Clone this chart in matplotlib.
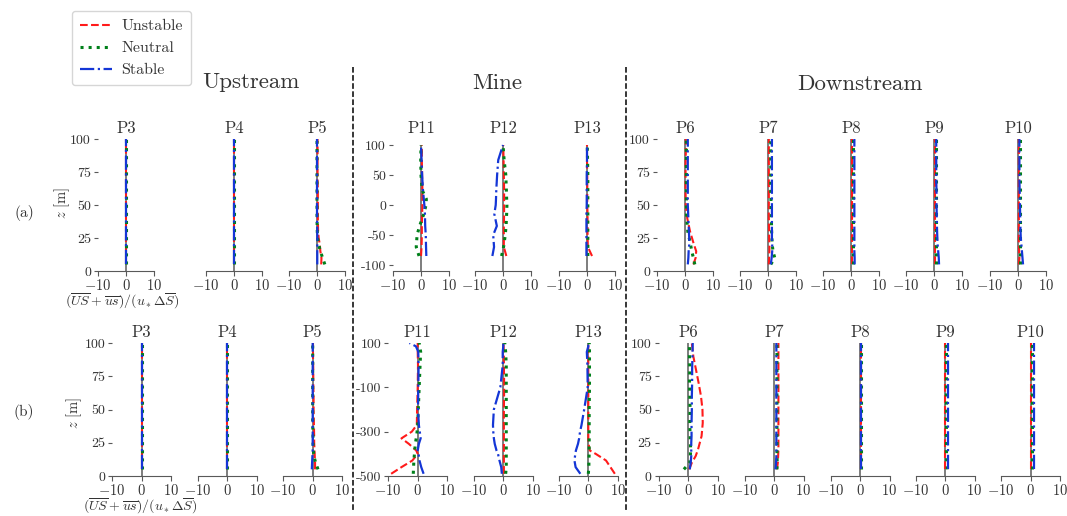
"""Profils verticaux du flux turbulent normalisé, stations amont / mine / aval."""

import matplotlib

matplotlib.use("Agg")
import matplotlib.pyplot as plt
from matplotlib.lines import Line2D

plt.rcParams["font.family"] = "serif"
plt.rcParams["font.serif"] = ["cmr10", "DejaVu Serif"]
plt.rcParams["mathtext.fontset"] = "cm"
plt.rcParams["axes.unicode_minus"] = False

# ---- données (unstable, neutral, stable) ----
STATIONS = ["P3", "P4", "P5", "P11", "P12", "P13", "P6", "P7", "P8", "P9", "P10"]
MINE = {"P11", "P12", "P13"}

Z_A = [5, 10, 15, 20, 25, 30, 40, 50, 60, 70, 80, 90, 100]
Z_A_MINE = [-85, -70, -50, -35, -15, 0, 10, 25, 50, 75, 100]
Z_B = [5, 10, 15, 20, 25, 30, 40, 50, 60, 70, 80, 90, 100]
Z_B_MINE = [-490, -460, -430, -400, -385, -355, -330, -300, -270, -200, -100, 0, 60, 85, 100]

A_P3 = ([0, 0, 0, 0, 0, 0, 0, 0, 0, 0, 0, 0, 0],
        [0, 0, 0, 0, 0, 0, 0, 0, 0, 0, 0, 0, 0],
        [0, 0, 0, 0, 0, 0, 0, 0, 0, 0, 0, 0, 0])
A_P4 = ([0, 0, 0, 0, 0, 0, 0, 0, 0, 0, 0, 0, 0],
        [0, 0, 0, 0, 0, 0, 0, 0, 0, 0, 0, 0, 0],
        [0, 0, 0, 0, 0, 0, 0, 0, 0, 0, 0, 0, 0])
A_P5 = ([1.5, 1.6, 1.2, 1.0, 0.6, 0.4, 0.3, 0.3, 0.3, 0.2, 0.2, 0.2, 0.2],
        [2.8, 2.0, 1.2, 0.6, 0.2, 0.1, 0, 0, 0, 0, 0, 0, 0],
        [0.1, 0.1, 0.1, 0.1, 0.1, 0.1, 0, 0, 0, 0, 0, 0, 0])
A_P11 = ([0.0, 0.2, 0.3, 0.3, 0.4, 0.5, 0.5, 0.5, 0.4, 0.3, 0.3],
         [-0.7, -1.7, -1.4, -0.5, 1.0, 1.8, 1.9, 0.4, 0.0, -0.1, 0.0],
         [1.9, 1.8, 1.7, 1.5, 1.4, 1.2, 1.0, 0.7, 0.4, 0.2, 0.0])
A_P12 = ([1.2, 0.3, 0.3, 0.3, 0.4, 0.4, 0.4, 0.4, 0.3, 0.2, 0.1],
         [-0.5, 0.2, 0.8, 1.1, 1.3, 1.4, 1.3, 1.2, 1.0, 0.4, 0.0],
         [-3.8, -3.2, -3.5, -2.2, -3.1, -2.6, -2.5, -2.4, -2.1, -1.7, 0.0])
A_P13 = ([1.8, 0.3, 0.2, 0.2, 0.2, 0.1, 0.1, 0.1, 0.1, 0.0, 0.0],
         [0.3, 0.3, 0.3, 0.3, 0.3, 0.3, 0.3, 0.3, 0.3, 0.2, 0.1],
         [-0.2, -0.2, -0.2, -0.2, -0.2, -0.1, -0.1, -0.1, -0.1, 0.0, 0.0])
A_P6 = ([3.0, 3.8, 4.0, 3.2, 2.5, 1.8, 0.8, 0.3, 0.2, 0.2, 0.2, 0.3, 0.3],
        [3.5, 3.0, 2.4, 2.0, 1.5, 1.0, 0.6, 0.5, 0.5, 0.5, 0.5, 0.5, 0.5],
        [1.0, 1.2, 1.3, 1.5, 1.5, 1.4, 1.2, 1.0, 1.0, 1.0, 1.0, 1.0, 1.0])
A_P7 = ([0.3, 0.4, 0.5, 0.5, 0.4, 0.4, 0.3, 0.3, 0.3, 0.3, 0.3, 0.3, 0.3],
        [1.0, 2.4, 1.8, 1.5, 1.4, 1.3, 1.2, 1.1, 1.0, 1.0, 1.0, 1.0, 1.0],
        [1.0, 1.3, 1.5, 1.5, 1.4, 1.4, 1.4, 1.4, 1.4, 1.4, 1.4, 1.4, 1.4])
A_P8 = ([0.5, 0.5, 0.5, 0.5, 0.5, 0.5, 0.5, 0.5, 0.5, 0.5, 0.5, 0.5, 0.5],
        [0.8, 0.8, 0.8, 0.8, 0.8, 0.8, 0.8, 0.8, 0.8, 0.8, 0.8, 0.8, 0.8],
        [1.3, 1.3, 1.2, 1.2, 1.2, 1.2, 1.2, 1.2, 1.2, 1.2, 1.2, 1.2, 1.2])
A_P9 = ([0.3, 0.3, 0.3, 0.3, 0.3, 0.3, 0.3, 0.3, 0.3, 0.3, 0.3, 0.3, 0.3],
        [0.6, 0.6, 0.6, 0.6, 0.6, 0.6, 0.6, 0.6, 0.6, 0.6, 0.6, 0.6, 0.6],
        [1.8, 1.7, 1.5, 1.3, 1.2, 1.1, 1.0, 0.9, 0.9, 0.8, 0.8, 0.8, 0.8])
A_P10 = ([0.3, 0.5, 0.4, 0.3, 0.3, 0.3, 0.3, 0.3, 0.3, 0.3, 0.3, 0.3, 0.3],
         [0.7, 0.7, 0.7, 0.7, 0.7, 0.7, 0.7, 0.7, 0.7, 0.7, 0.7, 0.7, 0.7],
         [1.8, 1.6, 1.4, 1.2, 1.0, 0.9, 0.8, 0.7, 0.6, 0.5, 0.5, 0.5, 0.5])

B_P3 = ([0, 0, 0, 0, 0, 0, 0, 0, 0, 0, 0, 0, 0],
        [0, 0, 0, 0, 0, 0, 0, 0, 0, 0, 0, 0, 0],
        [0, 0, 0, 0, 0, 0, 0, 0, 0, 0, 0, 0, 0])
B_P4 = ([0, 0, 0, 0, 0, 0, 0, 0, 0, 0, 0, 0, 0],
        [0, 0, 0, 0, 0, 0, 0, 0, 0, 0, 0, 0, 0],
        [0, 0, 0, 0, 0, 0, 0, 0, 0, 0, 0, 0, 0])
B_P5 = ([0.8, 0.8, 0.7, 0.6, 0.5, 0.5, 0.4, 0.3, 0.3, 0.2, 0.2, 0.1, 0.1],
        [1.8, 1.0, 0.4, 0.2, 0.1, 0.1, 0, 0, 0, 0, 0, 0, 0],
        [-0.3, -0.2, -0.1, 0, 0, 0, 0, 0, 0, 0, 0, 0, 0])
B_P11 = ([-9.0, -5.5, -1.8, 0.0, -0.5, -3.0, -5.5, -2.0, -0.3, -0.2, 0.0, 0.1, 0.0, 0.0, 0.0],
         [-1.5, -1.4, -1.3, -1.1, -1.0, -0.8, -0.5, -0.2, 0.0, 0.2, 0.5, 0.8, 1.0, 0.7, 0.5],
         [2.0, 1.2, 0.6, 0.3, 0.0, 0.4, 1.0, 0.7, 0.4, 0.1, 0.2, 0.3, 0.2, -0.6, -2.8])
B_P12 = ([0.2, 0.2, 0.2, 0.2, 0.2, 0.2, 0.2, 0.2, 0.2, 0.2, 0.3, 0.2, 0.2, 0.1, 0.1],
         [0.8, 1.0, 1.0, 1.0, 1.0, 1.0, 1.0, 1.0, 1.0, 1.0, 1.0, 1.0, 0.8, 0.6, 0.5],
         [-0.5, -0.7, -1.3, -1.8, -2.3, -2.9, -3.2, -3.4, -3.5, -3.2, -1.0, -0.2, -0.2, 0.0, 0.0])
B_P13 = ([9.0, 7.5, 6.0, 2.5, 0.5, 0.1, 0.0, 0.0, 0.0, 0.0, 0.0, 0.0, 0.0, 0.0, 0.0],
         [0.0, 0.2, 0.2, 0.3, 0.3, 0.3, 0.3, 0.3, 0.3, 0.3, 0.4, 0.4, 0.4, 0.4, 0.3],
         [-2.7, -4.3, -4.7, -4.4, -4.2, -3.5, -3.1, -2.8, -2.3, -1.4, -0.2, -0.3, -0.5, 0.0, 0.0])
B_P6 = ([0.3, 1.2, 2.5, 3.3, 3.9, 4.5, 4.9, 4.8, 4.3, 3.5, 2.6, 1.7, 1.2],
        [-1.5, 0.5, 0.7, 0.8, 0.7, 0.6, 0.5, 0.6, 0.5, 0.4, 0.5, 0.4, 0.4],
        [0.5, 0.8, 1.0, 1.0, 1.0, 1.1, 1.1, 1.2, 1.2, 1.3, 1.3, 1.4, 1.5])
B_P7 = ([1.0, 1.3, 1.4, 1.5, 1.5, 1.5, 1.5, 1.5, 1.5, 1.5, 1.5, 1.5, 1.5],
        [1.0, 1.1, 1.0, 1.0, 1.0, 1.0, 1.0, 1.0, 1.0, 1.0, 1.0, 1.0, 1.0],
        [0.5, 0.7, 0.8, 0.8, 0.8, 0.8, 0.8, 0.8, 0.8, 0.8, 0.8, 0.8, 0.8])
B_P8 = ([0.2, 0.2, 0.2, 0.2, 0.2, 0.2, 0.2, 0.2, 0.2, 0.2, 0.2, 0.2, 0.2],
        [0.3, 0.3, 0.3, 0.3, 0.3, 0.3, 0.3, 0.3, 0.3, 0.3, 0.3, 0.3, 0.3],
        [0.5, 0.5, 0.5, 0.5, 0.5, 0.5, 0.5, 0.5, 0.5, 0.5, 0.5, 0.5, 0.5])
B_P9 = ([0.0, 0.0, 0.0, 0.0, 0.0, 0.0, 0.0, 0.0, 0.0, 0.0, 0.0, 0.0, 0.0],
        [0.8, 0.6, 0.5, 0.5, 0.5, 0.5, 0.5, 0.5, 0.5, 0.5, 0.5, 0.5, 0.5],
        [1.1, 1.1, 1.1, 1.1, 1.1, 1.1, 1.1, 1.1, 1.1, 1.1, 1.1, 1.1, 1.1])
B_P10 = ([0.0, 0.0, 0.0, 0.0, 0.0, 0.0, 0.0, 0.0, 0.0, 0.0, 0.0, 0.0, 0.0],
         [0.6, 0.6, 0.6, 0.6, 0.6, 0.6, 0.6, 0.6, 0.6, 0.6, 0.6, 0.6, 0.6],
         [1.0, 1.0, 1.0, 1.0, 1.0, 1.0, 1.0, 1.0, 1.0, 1.0, 1.0, 1.0, 1.0])

ROW_A = [A_P3, A_P4, A_P5, A_P11, A_P12, A_P13, A_P6, A_P7, A_P8, A_P9, A_P10]
ROW_B = [B_P3, B_P4, B_P5, B_P11, B_P12, B_P13, B_P6, B_P7, B_P8, B_P9, B_P10]

LABELS = ["Unstable", "Neutral", "Stable"]
STYLES = [("#ff1a1a", "--", 1.5), ("#00801a", ":", 2.2), ("#1436d6", "-.", 1.6)]
TXT = "#333333"

# ---- mise en page (pixels) ----
W, H = 1067, 516
fig = plt.figure(figsize=(W / 100, H / 100), dpi=100)


def px_axes(x0, top, width, height):
    return fig.add_axes([(x0 - width / 2) / W, 1 - (top + height) / H, width / W, height / H])


def draw_panel(ax, z, profiles, title, ylim, yticks, show_y):
    ax.vlines(0, ylim[0], max(z), color="0.45", lw=1.3, zorder=1)
    lines = []
    for vals, (color, ls, lw) in zip(profiles, STYLES):
        (ln,) = ax.plot(vals, z, color=color, ls=ls, lw=lw, zorder=2)
        lines.append(ln)
    ax.set_xlim(-10, 10)
    ax.set_ylim(*ylim)
    ax.set_xticks([-10, 0, 10])
    ax.set_xticklabels([r"$-10$", r"$0$", r"$10$"], fontsize=10.5, color=TXT)
    for side in ("top", "right", "left"):
        ax.spines[side].set_visible(False)
    ax.spines["bottom"].set_color("0.35")
    ax.tick_params(axis="x", length=3.5, pad=1.5, color="0.35")
    if show_y:
        ax.set_yticks(yticks)
        ax.set_yticklabels([str(t) for t in yticks], fontsize=10, color=TXT)
        ax.tick_params(axis="y", length=3, pad=2, color="0.35")
    else:
        ax.set_yticks([])
    ax.set_title(title, fontsize=12, color=TXT, pad=4.5)
    ax.patch.set_alpha(0)
    return lines


rows = [
    (ROW_A, Z_A, Z_A_MINE, (0, 100), (-110, 110), [0, 25, 50, 75, 100], [-100, -50, 0, 50, 100],
     [126, 234, 317, 421, 503, 587, 685, 768, 851, 934, 1018], 56, 139, 132),
    (ROW_B, Z_B, Z_B_MINE, (0, 100), (-500, 100), [0, 25, 50, 75, 100], [-500, -300, -100, 100],
     [141.7, 227.3, 312.7, 417.7, 503.3, 588.3, 688.3, 774, 860, 945, 1030.7], 59, 343, 133),
]

handles = None
for data, z, z_mine, ylim, ylim_mine, yt, yt_mine, centers, width, top, height in rows:
    for name, prof, xc in zip(STATIONS, data, centers):
        ax = px_axes(xc, top, width, height)
        first = name in ("P3", "P11", "P6")
        if name in MINE:
            lines = draw_panel(ax, z_mine, prof, name, ylim_mine, yt_mine, first)
        else:
            lines = draw_panel(ax, z, prof, name, ylim, yt, first)
        if handles is None:
            handles = lines

xlabel = r"$(\overline{US}+\overline{us})/(u_*\Delta\overline{S})$"
fig.text(122 / W, 1 - 301 / H, xlabel, ha="center", va="center", fontsize=10, color=TXT)
fig.text(140 / W, 1 - 506 / H, xlabel, ha="center", va="center", fontsize=10, color=TXT)
fig.text(62 / W, 1 - 203 / H, r"$z$ [m]", rotation=90, ha="center", va="center", fontsize=10.5, color=TXT)
fig.text(74 / W, 1 - 413 / H, r"$z$ [m]", rotation=90, ha="center", va="center", fontsize=10.5, color=TXT)
fig.text(24 / W, 1 - 213 / H, "(a)", ha="center", va="center", fontsize=11, color=TXT)
fig.text(24 / W, 1 - 412 / H, "(b)", ha="center", va="center", fontsize=11, color=TXT)

for label, xc, yc in [("Upstream", 251, 82), ("Mine", 497, 83), ("Downstream", 860, 84)]:
    fig.text(xc / W, 1 - yc / H, label, ha="center", va="center", fontsize=16.5, color=TXT)

for xs in (353, 626):
    fig.add_artist(Line2D([xs / W, xs / W], [1 - 67 / H, 1 - 512 / H], transform=fig.transFigure,
                          ls="--", lw=1.1, color="k"))

leg = fig.legend(handles, LABELS, loc="upper left", bbox_to_anchor=(64 / W, 1 - 3 / H),
                 fontsize=11.5, handlelength=2.0, handletextpad=0.6, labelspacing=0.5,
                 borderpad=0.5, frameon=True)
for t in leg.get_texts():
    t.set_color(TXT)

fig.savefig("out.png", dpi=100)
plt.close(fig)
